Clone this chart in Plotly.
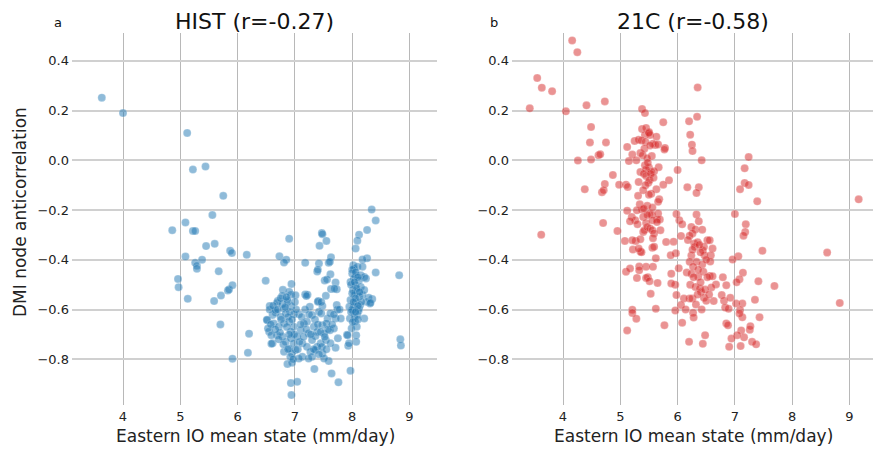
import plotly.graph_objects as go

# ---------------- data ----------------
hist_x = [3.63, 4.00, 5.12, 5.22, 5.44, 5.75, 5.56, 5.09, 8.34, 8.41,
          4.86, 5.22, 5.26, 6.90, 7.47, 7.48, 7.55, 7.43, 8.26, 8.12, 8.09, 8.06, 5.45, 5.60, 5.87, 5.90, 6.16,
          5.09, 5.26, 5.29, 5.29, 5.38, 6.73, 6.85, 6.81, 7.18, 7.42, 7.63, 7.59, 7.61, 8.26, 8.18, 5.67, 4.96,
          4.97, 5.13, 5.59, 5.71, 5.83, 5.85, 5.91, 5.70, 6.20, 6.18, 5.91, 6.49, 7.39, 7.40, 7.62, 7.52, 7.56,
          7.71, 7.63, 7.73, 7.69, 8.41, 8.82, 6.94, 6.79, 6.90, 6.93, 7.18, 7.22, 7.20, 7.01, 7.54, 7.41, 8.35,
          8.29, 8.25, 8.31, 8.21, 6.70, 6.78, 8.84, 8.85, 7.97, 7.34, 7.64, 7.76, 6.93, 7.04, 6.94, 6.87, 6.95,
          8.07, 8.07, 7.91, 7.93, 7.75, 7.71, 7.59, 8.32,
          8.02, 8.03, 8.09, 8.18, 8.00, 8.06, 8.15, 8.21, 8.03, 8.12, 7.97, 8.06, 8.15, 8.24, 8.015, 8.09, 8.04,
          8.12, 7.97, 8.06, 8.14, 8.03, 8.12, 8.00, 8.09, 7.96, 8.04, 8.08, 7.99, 7.92, 7.945, 8.11, 8.18, 8.21,
          8.015, 8.16, 7.95, 8.05,
          8.00, 8.06, 8.10, 7.98, 8.04, 8.08, 8.00, 8.13, 8.06, 8.02, 8.10, 7.98, 8.06, 8.01, 8.10,
          6.56, 6.69, 6.78, 6.87, 6.93, 6.81, 7.26, 7.40, 7.48, 7.73, 7.74, 7.42,
          6.52, 6.61, 6.66, 6.75, 6.84, 6.91, 6.98, 7.07, 7.21, 7.30, 7.46, 7.57, 7.62, 7.71, 7.80,
          6.55, 6.63, 6.72, 6.81, 6.90, 6.98, 6.93, 7.10, 7.16, 7.24, 7.33, 7.39, 7.48, 7.55, 7.61, 7.68, 7.51, 7.36,
          6.61, 6.69, 6.78, 6.84, 6.93, 6.98, 7.04, 7.13, 7.30, 7.45, 7.54, 7.62, 7.39, 7.21,
          6.81, 6.90, 6.95, 7.01, 7.13, 7.07, 7.27, 7.30, 7.36, 7.48, 7.51, 7.24,
          6.56, 6.66, 6.51, 6.53, 6.59, 6.59, 6.74, 6.87, 6.75, 7.46,
          6.62, 6.70, 6.83, 6.88, 6.95, 7.02, 7.12, 7.18, 7.25, 7.35, 7.40, 7.45, 7.52, 7.58, 7.65, 7.68, 7.78,
          6.58, 6.66, 6.72, 6.80, 6.88, 6.92, 6.97, 7.05, 7.08, 7.15, 7.20, 7.28, 7.33, 7.42, 7.47, 7.55, 6.76,
          6.86, 6.99, 7.10, 6.90, 6.85, 7.00]
hist_y = [0.252, 0.19, 0.11, -0.037, -0.025, -0.143, -0.22, -0.25, -0.198, -0.242,
          -0.281, -0.284, -0.284, -0.315, -0.292, -0.297, -0.324, -0.344, -0.280, -0.299, -0.323, -0.355, -0.345,
          -0.336, -0.364, -0.373, -0.380, -0.387, -0.412, -0.424, -0.436, -0.40, -0.386, -0.40, -0.411, -0.412,
          -0.415, -0.39, -0.412, -0.408, -0.394, -0.399, -0.446, -0.477, -0.51, -0.557, -0.566, -0.544, -0.524,
          -0.52, -0.502, -0.66, -0.697, -0.774, -0.798, -0.484, -0.447, -0.44, -0.458, -0.483, -0.479, -0.491,
          -0.518, -0.519, -0.516, -0.451, -0.462, -0.497, -0.521, -0.529, -0.54, -0.54, -0.541, -0.546, -0.543,
          -0.545, -0.566, -0.558, -0.553, -0.569, -0.576, -0.636, -0.566, -0.545, -0.72, -0.745, -0.846, -0.839,
          -0.857, -0.893, -0.896, -0.891, -0.944, -0.819, -0.814, -0.703, -0.73, -0.701, -0.746, -0.716, -0.754,
          -0.807, -0.573,
          -0.422, -0.435, -0.428, -0.428, -0.455, -0.462, -0.462, -0.469, -0.475, -0.482, -0.489, -0.502, -0.509,
          -0.475, -0.522, -0.529, -0.542, -0.549, -0.562, -0.569, -0.582, -0.589, -0.596, -0.602, -0.622, -0.636,
          -0.629, -0.669, -0.676, -0.703, -0.736, -0.606, -0.542, -0.522, -0.602, -0.569, -0.589, -0.649,
          -0.44, -0.45, -0.47, -0.50, -0.49, -0.515, -0.535, -0.53, -0.555, -0.57, -0.585, -0.61, -0.61, -0.65,
          -0.64,
          -0.586, -0.573, -0.578, -0.569, -0.586, -0.596, -0.589, -0.569, -0.586, -0.582, -0.60, -0.609,
          -0.643, -0.622, -0.613, -0.629, -0.616, -0.609, -0.619, -0.619, -0.649, -0.622, -0.616, -0.636, -0.616,
          -0.636, -0.636,
          -0.689, -0.656, -0.669, -0.656, -0.649, -0.669, -0.689, -0.683, -0.656, -0.696, -0.669, -0.689, -0.663,
          -0.656, -0.683, -0.676, -0.696, -0.707,
          -0.736, -0.703, -0.709, -0.730, -0.716, -0.736, -0.709, -0.736, -0.723, -0.736, -0.723, -0.736, -0.75,
          -0.75,
          -0.77, -0.757, -0.777, -0.763, -0.79, -0.797, -0.77, -0.79, -0.763, -0.777, -0.797, -0.797,
          -0.60, -0.602, -0.641, -0.676, -0.703, -0.738, -0.693, -0.562, -0.555, -0.57,
          -0.585, -0.60, -0.59, -0.63, -0.64, -0.60, -0.63, -0.60, -0.62, -0.64, -0.66, -0.69, -0.71, -0.68,
          -0.66, -0.62, -0.60, -0.66, -0.68, -0.72, -0.74, -0.76, -0.79, -0.80, -0.76, -0.73, -0.71, -0.68,
          -0.70, -0.76, -0.78, -0.75, -0.76, -0.64, -0.67, -0.70, -0.66, -0.70, -0.55, -0.57]

c21_x = [4.16, 4.25, 3.55, 3.63, 3.81, 3.42, 4.05, 4.41, 4.73, 6.35, 4.49, 4.47, 4.75, 4.26, 4.49, 4.62, 4.65,
         5.38, 5.43, 5.75, 6.20, 6.34, 6.22, 6.25, 6.26, 6.42, 4.87, 4.38, 4.73, 4.68, 4.71, 4.98, 5.12, 5.10,
         5.13, 6.0, 6.17, 6.37, 6.33, 5.85, 5.75, 5.67, 5.12, 5.98, 6.03, 6.33, 6.37, 7.0, 7.17, 7.24, 7.09, 7.17,
         7.24, 7.39, 9.16, 4.70,
         5.38, 5.45, 5.50, 5.43, 5.52, 5.63, 5.61, 5.57, 5.66, 5.78, 5.77, 5.25, 5.32, 5.37, 5.44, 5.50, 5.35,
         5.39, 5.42, 5.55, 5.21, 5.15, 5.28, 5.47, 5.35, 5.43, 5.50, 5.54, 5.45, 5.59, 5.32, 5.41, 5.45, 5.53,
         5.49, 5.51, 5.44, 5.63, 5.54, 5.50, 5.68, 5.66, 5.31, 5.34, 5.38, 5.47, 5.51, 5.40, 5.55, 5.66, 5.64,
         5.20, 5.26, 5.17, 5.30, 5.45, 5.56,
         5.52, 5.48, 5.58, 5.40, 5.56, 5.47,
         3.62, 4.95, 5.08, 5.22, 5.35, 5.37, 5.32, 5.27, 5.35, 5.40, 5.42, 5.47, 5.52, 5.56, 5.59, 5.70, 5.57,
         5.56, 5.62, 5.59, 5.10, 5.17, 5.29, 5.33, 5.33, 5.45, 5.48, 5.57, 5.65, 5.45, 5.51, 5.53, 5.21, 5.21,
         5.28, 5.12, 5.62, 5.21, 5.69, 5.64, 5.29, 5.41,
         6.08, 6.24, 6.31, 6.43, 6.26, 6.21, 6.06, 7.19, 7.18, 7.15, 5.80, 5.93,
         6.29, 6.35, 6.52, 6.56, 6.46, 6.61, 6.44, 6.30, 6.58, 6.47, 5.97, 5.88,
         6.24, 6.21, 6.33, 6.43, 6.57, 7.48, 8.61, 7.06, 6.96,
         6.02, 6.16, 6.24, 6.27, 6.36, 6.45, 6.56, 6.61, 7.14, 7.08, 7.03, 7.41, 6.79, 6.85, 5.89, 5.96, 5.89,
         6.22, 6.31, 6.39, 6.41, 6.26, 6.21, 6.46, 6.50, 6.63, 6.67, 6.59,
         5.98, 6.11, 6.06, 6.14, 6.77, 6.81, 6.92, 6.83, 6.89, 7.02, 7.13, 7.09, 7.13, 7.08, 7.35, 7.43, 7.69,
         8.83, 5.77, 5.96, 6.08, 6.27, 6.28, 6.48, 6.20, 6.44,
         6.85, 6.88, 7.11, 7.16, 7.26, 7.27, 7.04, 6.94, 6.90, 7.10, 7.30, 7.37,
         6.18, 6.26, 6.38, 6.40, 6.50, 6.36, 6.28, 6.40, 6.52, 6.48, 6.35, 6.55, 6.32, 6.42]
c21_y = [0.482, 0.435, 0.331, 0.292, 0.278, 0.209, 0.197, 0.221, 0.237, 0.293, 0.134, 0.072, 0.072, -0.001,
         0.003, 0.02, 0.024, 0.206, 0.19, 0.153, 0.157, 0.175, 0.103, 0.063, 0.037, 0.0, -0.059, -0.116, -0.095,
         -0.128, -0.12, -0.098, 0.054, -0.098, -0.107, -0.039, -0.108, -0.108, -0.131, -0.08, -0.098, -0.028,
         -0.203, -0.216, -0.241, -0.218, -0.245, -0.216, -0.032, 0.013, -0.116, -0.091, -0.099, -0.165, -0.157,
         -0.252,
         0.126, 0.13, 0.114, 0.102, 0.102, 0.095, 0.062, 0.067, 0.064, 0.05, 0.043, 0.078, 0.083, 0.08, 0.074,
         0.11, 0.029, 0.02, 0.047, 0.017, 0.023, -0.003, 0.0, 0.008, -0.047, -0.02, -0.029, -0.047, -0.036,
         -0.044, -0.087, -0.054, -0.063, -0.054, -0.09, -0.08, -0.1, -0.116, -0.134, -0.138, -0.157, -0.167,
         -0.143, -0.177, -0.198, -0.183, -0.214, -0.228, -0.218, -0.214, -0.238, -0.228, -0.241, -0.245, -0.257,
         -0.252, -0.241,
         0.06, -0.01, -0.07, -0.12, -0.19, -0.22,
         -0.299, -0.284, -0.324, -0.359, -0.367, -0.37, -0.355, -0.324, -0.317, -0.288, -0.281, -0.268, -0.274,
         -0.281, -0.294, -0.281, -0.313, -0.352, -0.394, -0.348, -0.448, -0.435, -0.473, -0.427, -0.442, -0.428,
         -0.47, -0.428, -0.493, -0.473, -0.486, -0.537, -0.601, -0.614, -0.637, -0.684, -0.597, -0.321, -0.238,
         -0.248, -0.201, -0.194,
         -0.257, -0.268, -0.278, -0.279, -0.294, -0.303, -0.304, -0.257, -0.288, -0.303, -0.328, -0.327,
         -0.335, -0.329, -0.321, -0.321, -0.348, -0.355, -0.361, -0.348, -0.382, -0.382, -0.374, -0.382,
         -0.383, -0.408, -0.408, -0.419, -0.407, -0.364, -0.371, -0.386, -0.399,
         -0.434, -0.451, -0.456, -0.428, -0.468, -0.448, -0.465, -0.466, -0.452, -0.478, -0.49, -0.486, -0.47,
         -0.502, -0.456, -0.5, -0.495,
         -0.5, -0.509, -0.515, -0.529, -0.556, -0.556, -0.553, -0.565, -0.566, -0.499, -0.511,
         -0.542, -0.556, -0.582, -0.6, -0.542, -0.565, -0.553, -0.592, -0.597, -0.576, -0.576, -0.602, -0.631,
         -0.616, -0.561, -0.631, -0.505, -0.574, -0.663, -0.604, -0.653, -0.613, -0.632, -0.703, -0.73, -0.738,
         -0.656, -0.663, -0.684, -0.712, -0.681, -0.667, -0.703, -0.717, -0.75, -0.747, -0.73, -0.74,
         -0.32, -0.36, -0.34, -0.37, -0.40, -0.44, -0.47, -0.49, -0.47, -0.52, -0.54, -0.54, -0.58, -0.60]

titles = ["HIST (r=-0.27)", "21C (r=-0.58)"]
panel_letters = ["a", "b"]
x_label = "Eastern IO mean state (mm/day)"
y_label = "DMI node anticorrelation"
x_ticks = [4, 5, 6, 7, 8, 9]
y_ticks = [0.4, 0.2, 0.0, -0.2, -0.4, -0.6, -0.8]
y_ticktext = ["0.4", "0.2", "0.0", "\u22120.2", "\u22120.4", "\u22120.6", "\u22120.8"]

# ---------------- figure ----------------
# The page body has an 8px default margin, so positions below are (target pixel - 8).
W, H = 881, 450
OFF = 8
ML, MR, MT, MB = 72 - OFF, W - (877 - OFF), 33 - OFF, H - (405 - OFF)
PW, PH = W - ML - MR, H - MT - MB
FONT = "DejaVu Sans"


def px_x(p):
    return (p - OFF - ML) / PW


def px_y(p):
    return (H - MB - (p - OFF)) / PH


marker_common = dict(size=8, line=dict(color="rgba(255,255,255,0.35)", width=0.6))
fig = go.Figure()
fig.add_trace(go.Scatter(x=hist_x, y=hist_y, mode="markers", xaxis="x", yaxis="y",
                         marker=dict(color="rgba(31,119,180,0.5)", **marker_common),
                         showlegend=False, hoverinfo="skip"))
fig.add_trace(go.Scatter(x=c21_x, y=c21_y, mode="markers", xaxis="x2", yaxis="y2",
                         marker=dict(color="rgba(214,39,40,0.5)", **marker_common),
                         showlegend=False, hoverinfo="skip"))

common_x = dict(range=[3.11, 9.48], tickvals=x_ticks, showgrid=True, gridcolor="#b8b8b8", gridwidth=1.2,
                zeroline=False, showline=False, ticks="", automargin=False, ticklabelstandoff=2,
                tickfont=dict(family=FONT, size=13, color="#222"))
common_y = dict(range=[-0.984, 0.512], tickvals=y_ticks, ticktext=y_ticktext, showgrid=True,
                gridcolor="#d0d0d0", gridwidth=1.5, zeroline=False, showline=False, ticks="",
                automargin=False, ticklabelstandoff=2, tickfont=dict(family=FONT, size=13, color="#222"))

fig.update_layout(
    width=W, height=H, margin=dict(l=ML, r=MR, t=MT, b=MB),
    paper_bgcolor="white", plot_bgcolor="white",
    xaxis=dict(domain=[0, px_x(437)], anchor="y", **common_x),
    yaxis=dict(domain=[0, 1], anchor="x", **common_y),
    xaxis2=dict(domain=[px_x(512), 1], anchor="y2", **common_x),
    yaxis2=dict(domain=[0, 1], anchor="x2", **common_y),
)

title_x = [254, 693]
letter_x = [58, 494]
xlabel_x = [255, 693]
for i in range(2):
    fig.add_annotation(text=titles[i], x=px_x(title_x[i]), y=px_y(21), xref="paper", yref="paper",
                       showarrow=False, xanchor="center", yanchor="middle",
                       font=dict(family=FONT, size=22, color="#111"))
    fig.add_annotation(text=panel_letters[i], x=px_x(letter_x[i]), y=px_y(22), xref="paper", yref="paper",
                       showarrow=False, xanchor="center", yanchor="middle",
                       font=dict(family=FONT, size=13, color="#111"))
    fig.add_annotation(text=x_label, x=px_x(xlabel_x[i]), y=px_y(436), xref="paper", yref="paper",
                       showarrow=False, xanchor="center", yanchor="middle",
                       font=dict(family=FONT, size=17, color="#222"))
fig.add_annotation(text=y_label, x=px_x(20), y=px_y(212), xref="paper", yref="paper", textangle=-90,
                   showarrow=False, xanchor="center", yanchor="middle",
                   font=dict(family=FONT, size=17, color="#222"))

fig.write_html("out.html")
